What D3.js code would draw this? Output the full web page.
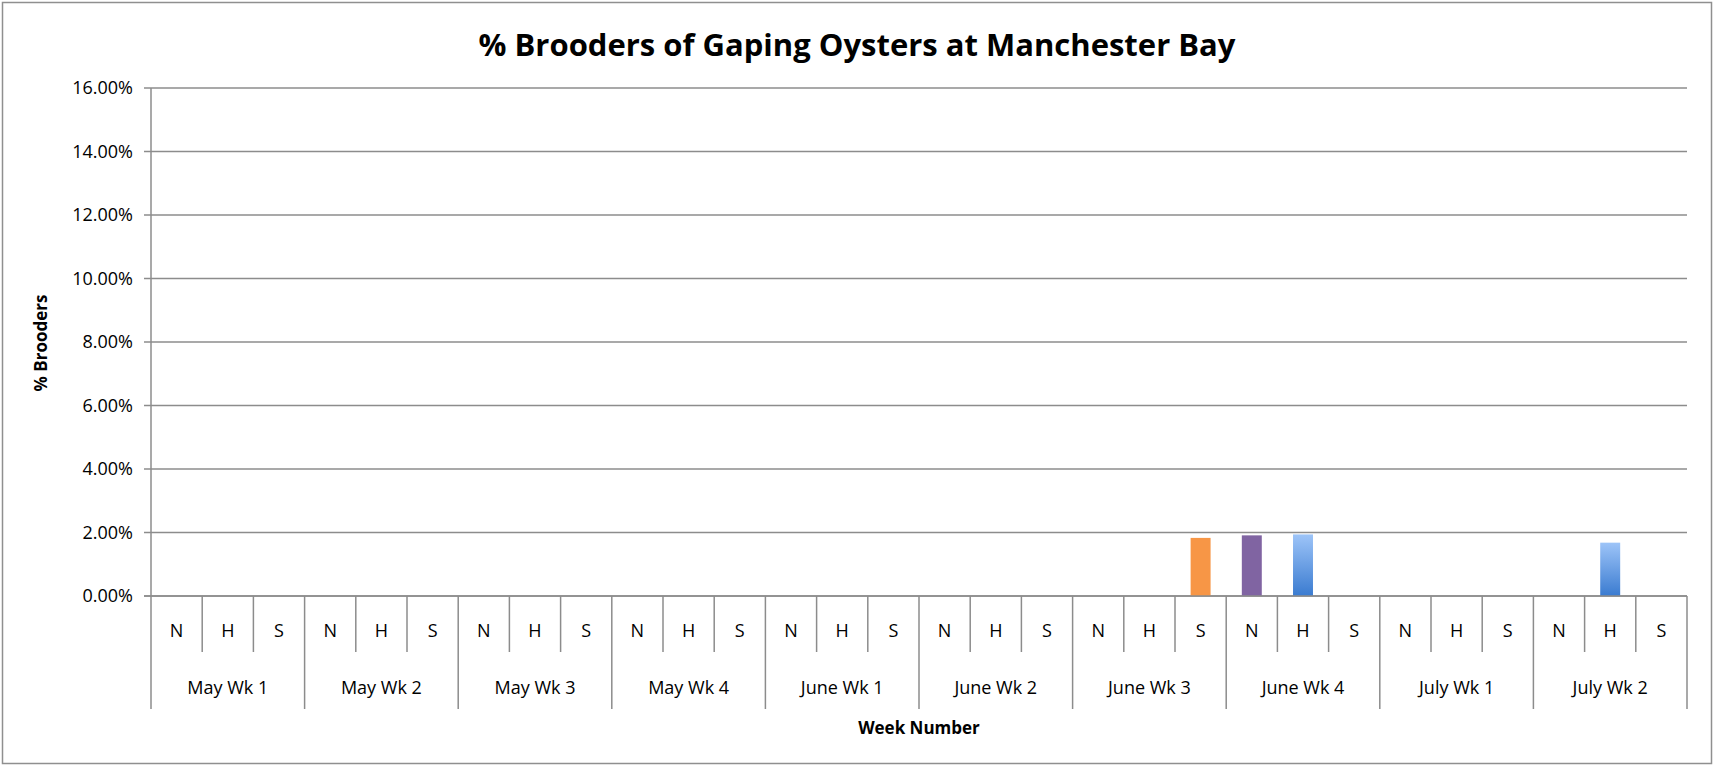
<!DOCTYPE html>
<html><head><meta charset="utf-8">
<script src="https://cdn.jsdelivr.net/npm/d3@7"></script>
<style>
html,body{margin:0;padding:0;background:#fff;}
svg{display:block;}
text{font-family:"Open Sans",sans-serif;fill:#000;}
</style></head>
<body>
<script>
const weeks = ["May Wk 1","May Wk 2","May Wk 3","May Wk 4","June Wk 1","June Wk 2","June Wk 3","June Wk 4","July Wk 1","July Wk 2"];
const sites = ["N","H","S"];
const valuesN = [0,0,0,0,0,0,0,1.91,0,0];
const valuesH = [0,0,0,0,0,0,0,1.94,0,1.68];
const valuesS = [0,0,0,0,0,0,1.83,0,0,0];
const yTicks = [0,2,4,6,8,10,12,14,16];
const chartTitle = "% Brooders of Gaping Oysters at Manchester Bay";
const yTitle = "% Brooders";
const xTitle = "Week Number";

const W = 1714, H = 766;
const plotLeft = 151, plotRight = 1687, plotTop = 88, plotBottom = 596;
const subBottom = 652, weekBottom = 709;
const gridColor = "#8c8c8c";

const svg = d3.select("body").append("svg").attr("width", W).attr("height", H);

const defs = svg.append("defs");
const grad = defs.append("linearGradient").attr("id","blueGrad").attr("x1",0).attr("y1",0).attr("x2",0).attr("y2",1);
grad.append("stop").attr("offset","0%").attr("stop-color","#9dc4f8");
grad.append("stop").attr("offset","100%").attr("stop-color","#3a7bd0");

// outer border
svg.append("rect").attr("x",2.5).attr("y",2.5).attr("width",W-5).attr("height",H-5)
  .attr("fill","#fff").attr("stroke","#8f8f8f").attr("stroke-width",1.5);

const series = {N: valuesN, H: valuesH, S: valuesS};
const colors = {N: "#8064a2", H: "url(#blueGrad)", S: "#f79646"};

const cats = [];
weeks.forEach((w,i) => sites.forEach(s => cats.push({week:w, wi:i, site:s, id:w+"|"+s, value: series[s][i]})));

const xWeek = d3.scaleBand().domain(weeks).range([plotLeft,plotRight]);
const xSub = d3.scaleBand().domain(cats.map(d=>d.id)).range([plotLeft,plotRight]);
const y = d3.scaleLinear().domain([0,16]).range([plotBottom,plotTop]);

// gridlines
svg.append("g").selectAll("line").data(yTicks).join("line")
  .attr("x1", plotLeft-7).attr("x2", plotRight)
  .attr("y1", d=>y(d)).attr("y2", d=>y(d))
  .attr("stroke", gridColor).attr("stroke-width",1.5);

// y tick labels
svg.append("g").selectAll("text").data(yTicks).join("text")
  .attr("x", 133).attr("y", d=>y(d)).attr("dy","0.35em")
  .attr("text-anchor","end").style("font-size","18px")
  .text(d=>d3.format(".2f")(d)+"%");

// y axis line
svg.append("line").attr("x1",plotLeft).attr("x2",plotLeft).attr("y1",plotTop).attr("y2",plotBottom)
  .attr("stroke",gridColor).attr("stroke-width",1.5);

// sub dividers
const subBounds = cats.map(d=>xSub(d.id)).filter((x,i)=> i%3!==0);
svg.append("g").selectAll("line").data(subBounds).join("line")
  .attr("x1",d=>d).attr("x2",d=>d).attr("y1",plotBottom).attr("y2",subBottom)
  .attr("stroke",gridColor).attr("stroke-width",1.5);

// week dividers
const weekBounds = weeks.map(w=>xWeek(w)).concat([plotRight]);
svg.append("g").selectAll("line").data(weekBounds).join("line")
  .attr("x1",d=>d).attr("x2",d=>d).attr("y1",plotBottom).attr("y2",weekBottom)
  .attr("stroke",gridColor).attr("stroke-width",1.5);

// sub labels
svg.append("g").selectAll("text").data(cats).join("text")
  .attr("x", d=>xSub(d.id)+xSub.bandwidth()/2).attr("y", 631).attr("dy","0.35em")
  .attr("text-anchor","middle").style("font-size","18px").text(d=>d.site);

// week labels
svg.append("g").selectAll("text").data(weeks).join("text")
  .attr("x", d=>xWeek(d)+xWeek.bandwidth()/2).attr("y", 688).attr("dy","0.35em")
  .attr("text-anchor","middle").style("font-size","18px").text(d=>d);

// bars
const bw = xSub.bandwidth()*0.39;
svg.append("g").selectAll("rect").data(cats.filter(d=>d.value>0)).join("rect")
  .attr("x", d=>xSub(d.id)+xSub.bandwidth()/2-bw/2)
  .attr("width", bw)
  .attr("y", d=>y(d.value))
  .attr("height", d=>y(0)-y(d.value))
  .attr("fill", d=>colors[d.site]);

// redraw zero line on top
svg.append("line").attr("x1",plotLeft-7).attr("x2",plotRight).attr("y1",y(0)).attr("y2",y(0))
  .attr("stroke",gridColor).attr("stroke-width",1.5);

// title
svg.append("text").attr("x", 857).attr("y", 56).attr("text-anchor","middle")
  .style("font-size","31px").style("font-weight","bold").text(chartTitle);

// axis titles
svg.append("text").attr("transform","translate(47,343) rotate(-90)")
  .attr("text-anchor","middle").style("font-size","17px").style("font-weight","bold").text(yTitle);
svg.append("text").attr("x",(plotLeft+plotRight)/2).attr("y",734)
  .attr("text-anchor","middle").style("font-size","17px").style("font-weight","bold").text(xTitle);
</script>
</body></html>
